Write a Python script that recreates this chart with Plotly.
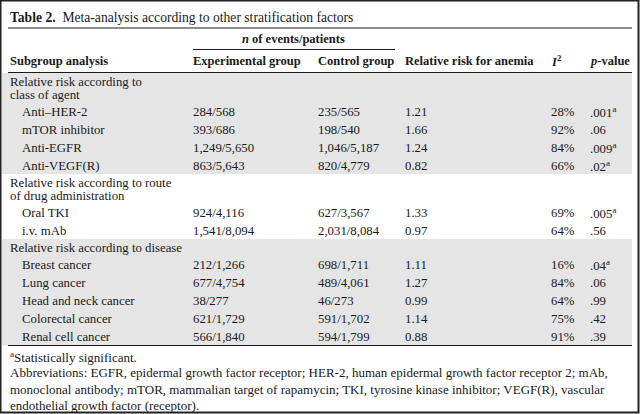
import plotly.graph_objects as go

# ---------------- data ----------------
title_label = "Table 2."
title_text = "Meta-analysis according to other stratification factors"
col_headers = ["Subgroup analysis", "Experimental group", "Control group",
               "Relative risk for anemia", "<i>I</i><sup>2</sup>", "<i>p</i>-value"]
span_header = "<i>n</i> of events/patients"

section_titles = [
    ["Relative risk according to", "class of agent"],
    ["Relative risk according to route", "of drug administration"],
    ["Relative risk according to disease"],
]
section_of_row = [0, 0, 0, 0, 1, 1, 2, 2, 2, 2, 2]
subgroups = ["Anti–HER-2", "mTOR inhibitor", "Anti-EGFR", "Anti-VEGF(R)",
             "Oral TKI", "i.v. mAb",
             "Breast cancer", "Lung cancer", "Head and neck cancer",
             "Colorectal cancer", "Renal cell cancer"]
experimental = ["284/568", "393/686", "1,249/5,650", "863/5,643",
                "924/4,116", "1,541/8,094",
                "212/1,266", "677/4,754", "38/277", "621/1,729", "566/1,840"]
control = ["235/565", "198/540", "1,046/5,187", "820/4,779",
           "627/3,567", "2,031/8,084",
           "698/1,711", "489/4,061", "46/273", "591/1,702", "594/1,799"]
relative_risk = [1.21, 1.66, 1.24, 0.82, 1.33, 0.97, 1.11, 1.27, 0.99, 1.14, 0.88]
i_squared = [28, 92, 84, 66, 69, 64, 16, 84, 64, 75, 91]
p_values = [".001", ".06", ".009", ".02", ".005", ".56", ".04", ".06", ".99", ".42", ".39"]
significant = [True, False, True, True, True, False, True, False, False, False, False]

footnotes = [
    "<sup>a</sup>Statistically significant.",
    "Abbreviations: EGFR, epidermal growth factor receptor; HER-2, human epidermal growth factor receptor 2; mAb,",
    "monoclonal antibody; mTOR, mammalian target of rapamycin; TKI, tyrosine kinase inhibitor; VEGF(R), vascular",
    "endothelial growth factor (receptor).",
]

# ---------------- layout / style ----------------
W, H = 640, 414
FONT = "Liberation Serif, Times New Roman, serif"
FS = 13
BFS = 12.8
HFS = 12.5
INK = "#1a1a1a"
GRAY = "#e5e5e5"
col_x = [8, 191, 316, 403, 549, 588]
indent_x = 20
left_rule, right_rule = 8, 632
section_fill = [GRAY, "white", GRAY]

shapes = []
annotations = []


def text(x, y, s, size=FS, anchor="left"):
    annotations.append(dict(x=x, y=y, xref="x", yref="y", text=s, showarrow=False,
                            xanchor=anchor, yanchor="middle",
                            font=dict(family=FONT, size=size, color=INK)))


def hline(y, x0, x1, width=1.0):
    shapes.append(dict(type="line", xref="x", yref="y", x0=x0, x1=x1, y0=y, y1=y,
                       line=dict(color=INK, width=width)))


# title
text(col_x[0], 17.5, "<b>" + title_label + "</b>&nbsp; " + title_text, size=13.6)
hline(28, left_rule, right_rule)
# spanning header
text((col_x[1] + 395) / 2, 39, "<b>" + span_header + "</b>", size=HFS, anchor="center")
hline(49.5, col_x[1] + 2, 395)
# column headers
for cx, h in zip(col_x, col_headers):
    text(cx, 61, "<b>" + h + "</b>", size=HFS)
hline(72.5, left_rule, right_rule)

# body
cursor = 73
for s, lines in enumerate(section_titles):
    top = cursor
    y = top + 9
    ys = []
    for i, ln in enumerate(lines):
        ys.append((y, ln))
        if i < len(lines) - 1:
            y += 12.5
    y += 17
    rows = [r for r in range(len(subgroups)) if section_of_row[r] == s]
    row_ys = []
    for j, r in enumerate(rows):
        row_ys.append((y, r))
        if j < len(rows) - 1:
            y += 18
    bottom = y + 8.5
    shapes.append(dict(type="rect", xref="x", yref="y", x0=2, x1=right_rule, y0=top, y1=bottom,
                       fillcolor=section_fill[s], line=dict(width=0), layer="below"))
    for yy, ln in ys:
        text(col_x[0], yy, ln, size=BFS)
    for yy, r in row_ys:
        text(indent_x, yy, subgroups[r], size=BFS)
        text(col_x[1], yy, experimental[r], size=BFS)
        text(col_x[2], yy, control[r], size=BFS)
        text(col_x[3], yy, f"{relative_risk[r]:.2f}", size=BFS)
        text(col_x[4], yy, f"{i_squared[r]}%", size=BFS)
        text(col_x[5], yy, p_values[r] + ("<sup>a</sup>" if significant[r] else ""), size=BFS)
    cursor = bottom

hline(cursor, left_rule, right_rule)

# footnotes
fy = cursor + 11
for i, fn in enumerate(footnotes):
    text(col_x[0], fy + i * 16.3, fn)

# outer frame
shapes.append(dict(type="rect", xref="x", yref="y", x0=0.5, x1=W - 1.5, y0=0.5, y1=H - 1.5,
                   line=dict(color="#222222", width=2), fillcolor="rgba(0,0,0,0)"))

fig = go.Figure()
fig.update_layout(
    width=W, height=H, margin=dict(l=0, r=0, t=0, b=0),
    paper_bgcolor="white", plot_bgcolor="white",
    xaxis=dict(range=[0, W], visible=False, fixedrange=True),
    yaxis=dict(range=[H, 0], visible=False, fixedrange=True),
    shapes=shapes, annotations=annotations, showlegend=False,
)
fig.write_html("out.html", config={"displayModeBar": False},
               post_script="document.body.style.margin='0';document.body.style.overflow='hidden';")
